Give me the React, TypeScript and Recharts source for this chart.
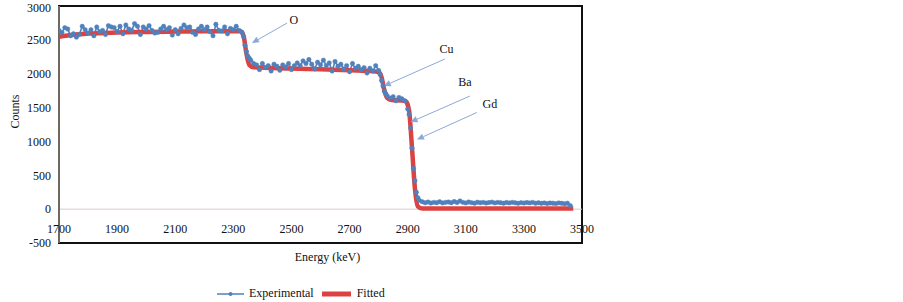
import React from 'react'
import {
  LineChart, Line, XAxis, YAxis, ReferenceLine, ReferenceArea, ReferenceDot, Legend
} from 'recharts'

const FONT = 'Liberation Serif, Times New Roman, serif'
const BLUE = '#4F81BD'
const RED = '#DD4242'
const ARROW = '#8DA9D8'

const xTicks = [1700, 1900, 2100, 2300, 2500, 2700, 2900, 3100, 3300, 3500]
const yTicks = [-500, 0, 500, 1000, 1500, 2000, 2500, 3000]

// experimental spectrum
const expEnergy = [
  1700, 1710, 1720, 1730, 1740, 1750, 1760, 1770, 1780, 1790,
  1800, 1810, 1820, 1830, 1840, 1850, 1860, 1870, 1880, 1890,
  1900, 1910, 1920, 1930, 1940, 1950, 1960, 1970, 1980, 1990,
  2000, 2010, 2020, 2030, 2040, 2050, 2060, 2070, 2080, 2090,
  2100, 2110, 2120, 2130, 2140, 2150, 2160, 2170, 2180, 2190,
  2200, 2210, 2220, 2230, 2240, 2250, 2260, 2270, 2280, 2290,
  2300, 2310, 2320, 2330, 2335, 2340, 2345, 2350, 2355, 2360, 2370,
  2380, 2390, 2400, 2410, 2420, 2430, 2440, 2450, 2460, 2470,
  2480, 2490, 2500, 2510, 2520, 2530, 2540, 2550, 2560, 2570,
  2580, 2590, 2600, 2610, 2620, 2630, 2640, 2650, 2660, 2670,
  2680, 2690, 2700, 2710, 2720, 2730, 2740, 2750, 2760, 2770,
  2780, 2790, 2800, 2805, 2810, 2815, 2820, 2825, 2830,
  2840, 2850, 2860, 2870, 2880, 2890,
  2900, 2905, 2910, 2915, 2920, 2925, 2930, 2935, 2940,
  2950, 2960, 2970, 2980, 2990, 3000, 3010, 3020, 3030, 3040,
  3050, 3060, 3070, 3080, 3090, 3100, 3110, 3120, 3130, 3140,
  3150, 3160, 3170, 3180, 3190, 3200, 3210, 3220, 3230, 3240,
  3250, 3260, 3270, 3280, 3290, 3300, 3310, 3320, 3330, 3340,
  3350, 3360, 3370, 3380, 3390, 3400, 3410, 3420, 3430, 3440,
  3450, 3460,
]
const expCounts = [
  2640, 2610, 2680, 2660, 2560, 2590, 2540, 2580, 2700, 2650,
  2600, 2650, 2560, 2690, 2620, 2640, 2580, 2710, 2690, 2680,
  2620, 2700, 2590, 2720, 2660, 2640, 2740, 2700, 2580, 2690,
  2660, 2710, 2640, 2600, 2610, 2660, 2700, 2650, 2680, 2570,
  2650, 2590, 2670, 2720, 2680, 2690, 2610, 2580, 2660, 2700,
  2650, 2690, 2620, 2560, 2730, 2640, 2630, 2690, 2590, 2670,
  2650, 2700, 2640, 2610, 2550, 2420, 2330, 2260, 2230, 2200, 2150,
  2130, 2060, 2150, 2090, 2120, 2040, 2140, 2110, 2050, 2130,
  2100, 2150, 2060, 2120, 2160, 2120, 2190, 2150, 2210, 2140,
  2070, 2170, 2130, 2200, 2120, 2160, 2040, 2180, 2110, 2140,
  2070, 2120, 2030, 2150, 2080, 2110, 2060, 2090, 2010, 2080,
  2040, 2120, 2050, 1990, 1900, 1820, 1740, 1700, 1670,
  1640, 1660, 1600, 1650, 1630, 1600,
  1480, 1400, 1200, 900, 600, 420, 250, 170, 130,
  110, 95, 105, 90, 100, 95, 110, 92, 100, 105,
  95, 112, 98, 120, 100, 92, 105, 96, 88, 102,
  94, 100, 90, 98, 104, 92, 100, 95, 88, 98,
  92, 100, 94, 86, 96, 90, 98, 92, 100, 88,
  94, 86, 92, 84, 90, 88, 82, 92, 86, 80,
  88, 50,
]

// fitted curve
const fitEnergy = [
  1700, 1750, 1800, 1900, 2000, 2100, 2200, 2300, 2325, 2335, 2345, 2355, 2370,
  2500, 2600, 2700, 2780, 2800, 2810, 2820, 2830, 2845, 2880, 2895,
  2905, 2915, 2925, 2935, 2950, 3100, 3300, 3470,
]
const fitCounts = [
  2545, 2575, 2592, 2608, 2617, 2622, 2626, 2628, 2626, 2560, 2300, 2130, 2095,
  2078, 2065, 2050, 2038, 2025, 1950, 1750, 1640, 1612, 1605, 1590,
  1450, 900, 300, 40, 8, 8, 8, 8,
]

// element labels and arrows (energy, counts)
const annoNames = ['O', 'Cu', 'Ba', 'Gd']
const annoLabelAt = [[2508, 2793], [3034, 2364], [3097, 1877], [3183, 1552]]
const arrowFrom = [[2485, 2748], [3028, 2217], [3114, 1670], [3138, 1427]]
const arrowTo = [[2364, 2453], [2818, 1818], [2910, 1286], [2932, 1028]]

const experimental = expEnergy.map((e, i) => ({ energy: e, counts: expCounts[i] }))
const fitted = fitEnergy.map((e, i) => ({ energy: e, counts: fitCounts[i] }))

// eslint-disable-next-line @typescript-eslint/no-explicit-any
function ArrowShape(props: any) {
  const { x1, y1, x2, y2 } = props
  if (x1 == null || x2 == null) return null
  const ang = Math.atan2(y2 - y1, x2 - x1)
  const len = 7
  const half = 3.2
  const bx = x2 - len * Math.cos(ang)
  const by = y2 - len * Math.sin(ang)
  const pts = `${x2},${y2} ${bx + half * Math.sin(ang)},${by - half * Math.cos(ang)} ${bx - half * Math.sin(ang)},${by + half * Math.cos(ang)}`
  return (
    <g>
      <line x1={x1} y1={y1} x2={bx} y2={by} stroke={ARROW} strokeWidth={1} />
      <polygon points={pts} fill={ARROW} />
    </g>
  )
}

// eslint-disable-next-line @typescript-eslint/no-explicit-any
function XTick({ x, y, payload }: any) {
  return (
    <text x={x} y={y - 14} dy="0.355em" textAnchor="middle" fontSize={12} fontFamily={FONT} fill="#111">
      {payload.value}
    </text>
  )
}

// eslint-disable-next-line @typescript-eslint/no-explicit-any
function CountsLabel({ viewBox }: any) {
  const cx = viewBox.x + 15
  const cy = viewBox.y + viewBox.height / 2 - 13
  return (
    <text x={cx} y={cy} dy="0.355em" textAnchor="middle" fontSize={12} fontFamily={FONT} fill="#111"
      transform={`rotate(-90 ${cx} ${cy})`}>Counts</text>
  )
}

function LegendContent() {
  return (
    <div style={{ display: 'flex', alignItems: 'center', fontFamily: FONT, fontSize: 12, color: '#111', whiteSpace: 'nowrap' }}>
      <svg width={28} height={10}>
        <line x1={0} y1={5} x2={27} y2={5} stroke={BLUE} strokeWidth={1.5} />
        <circle cx={13.5} cy={5} r={2} fill={BLUE} />
      </svg>
      <span style={{ marginLeft: 4 }}>Experimental</span>
      <svg width={29} height={10} style={{ marginLeft: 8 }}>
        <line x1={0} y1={5} x2={29} y2={5} stroke={RED} strokeWidth={5} />
      </svg>
      <span style={{ marginLeft: 6 }}>Fitted</span>
    </div>
  )
}

export default function App() {
  return (
    <div style={{ position: 'absolute', left: 0, top: 0, background: '#fff' }}>
      <LineChart width={903} height={302} margin={{ top: 6, right: 321, left: 0, bottom: 0 }}>
        <ReferenceArea x1={1700} x2={3500} y1={-500} y2={3000} fill="none" stroke="#111" strokeWidth={2} />
        <ReferenceLine y={0} stroke="#dccaca" strokeWidth={1} />
        <XAxis type="number" dataKey="energy" domain={[1700, 3500]} ticks={xTicks} allowDataOverflow
          height={59} axisLine={false} tickLine={false} tickSize={0} tickMargin={0} tick={<XTick />}
          label={{ value: 'Energy (keV)', position: 'insideTop', offset: 9, dx: 7, fontSize: 12, fontFamily: FONT, fill: '#111' }} />
        <YAxis type="number" domain={[-500, 3000]} ticks={yTicks} width={59} allowDataOverflow
          axisLine={{ stroke: '#6d6862', strokeWidth: 2 }} tickLine={false}
          tick={{ fontSize: 12, fontFamily: FONT, fill: '#111' }} label={<CountsLabel />} />
        <Legend layout="horizontal" verticalAlign="middle" align="center" content={<LegendContent />}
          wrapperStyle={{ top: 286, left: 217, width: 'auto' }} />
        <Line data={experimental} dataKey="counts" name="Experimental" type="linear" stroke={BLUE} strokeWidth={1.6}
          dot={{ r: 2.2, fill: BLUE, stroke: BLUE, strokeWidth: 0.5 }} isAnimationActive={false} />
        <Line data={fitted} dataKey="counts" name="Fitted" type="monotone" stroke={RED} strokeWidth={4.5}
          dot={false} isAnimationActive={false} />
        {annoNames.map((n, i) => (
          <ReferenceLine key={'a' + n} segment={[{ x: arrowFrom[i][0], y: arrowFrom[i][1] }, { x: arrowTo[i][0], y: arrowTo[i][1] }]}
            shape={ArrowShape} />
        ))}
        {annoNames.map((n, i) => (
          <ReferenceDot key={'l' + n} x={annoLabelAt[i][0]} y={annoLabelAt[i][1]} r={0} fill="none" stroke="none"
            label={{ value: n, position: 'center', fontSize: 12, fontFamily: FONT, fill: '#111' }} />
        ))}
      </LineChart>
    </div>
  )
}
